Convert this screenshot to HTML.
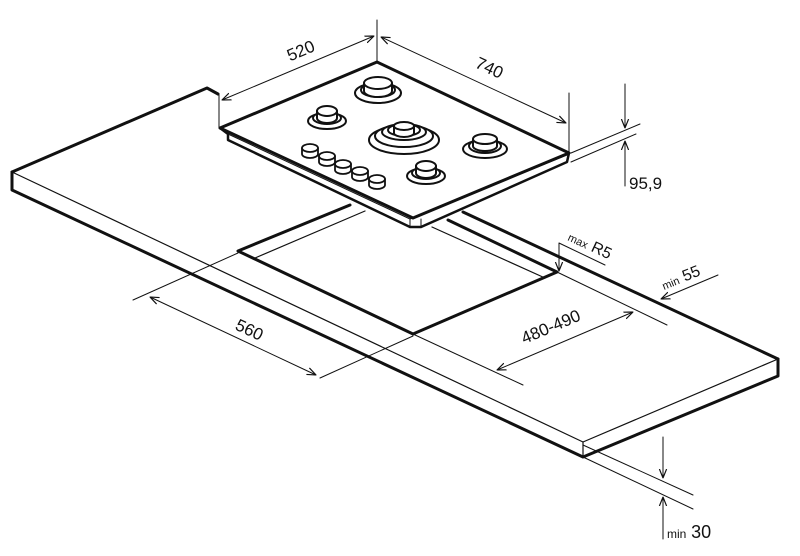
<!DOCTYPE html>
<html><head><meta charset="utf-8"><style>
html,body{margin:0;padding:0;background:#fff;}
svg{display:block;}
text{font-family:"Liberation Sans",sans-serif;fill:#111;}
</style></head><body>
<svg width="800" height="556" viewBox="0 0 800 556" xmlns="http://www.w3.org/2000/svg">
<defs>
<marker id="a" viewBox="0 0 10 10" refX="10" refY="5" markerWidth="9" markerHeight="9" orient="auto-start-reverse" markerUnits="userSpaceOnUse"><path d="M0,1 L10,5 L0,9" fill="none" stroke="#111" stroke-width="1.3"/></marker>
</defs>
<g stroke="#111" fill="none" stroke-linecap="round" stroke-linejoin="round">
<path d="M12,172 L207,88 L218,94" stroke-width="3"/>
<path d="M12,172 L12,190 L583,457 L778,376 L778,359" stroke-width="3"/>
<path d="M12,172 L583,442 L778,359" stroke-width="1.2"/>
<path d="M583,442 L583,457" stroke-width="1.2"/>
<path d="M463,212 L778,359" stroke-width="3"/>
<path d="M350,205 L238,251 L413,334 L557,272 L448,220" stroke-width="3"/>
<path d="M255,258 L365,211" stroke-width="1.2"/>
<path d="M545,278 L432,227" stroke-width="1.2"/>
<path d="M220,128 L228,134 L228,140 L410,227 L421,227 L567,162 L569,153" fill="#fff" stroke-width="2.5"/>
<path d="M228,134 L410,219 L567,155" stroke-width="1"/>
<path d="M410,219 L410,227 M421,219 L421,227" stroke-width="1"/>
<path d="M377,62 L220,128 L413,218 L569,153 Z" fill="#fff" stroke-width="3"/>
<g stroke-width="2" fill="#fff">
<ellipse cx="378" cy="93" rx="23" ry="10"/>
<ellipse cx="378" cy="90" rx="17" ry="7"/>
<path d="M364,83 L364,91 A14,6 0 0 0 392,91 L392,83"/>
<ellipse cx="378" cy="83" rx="14" ry="6"/>
<ellipse cx="327" cy="121" rx="19" ry="8"/>
<ellipse cx="327" cy="118" rx="14" ry="6"/>
<path d="M317,111 L317,118 A10,5 0 0 0 337,118 L337,111"/>
<ellipse cx="327" cy="111" rx="10" ry="5"/>
<ellipse cx="404" cy="140" rx="35" ry="14"/>
<ellipse cx="404" cy="136" rx="29" ry="11"/>
<ellipse cx="404" cy="132" rx="22" ry="8"/>
<ellipse cx="404" cy="130" rx="16" ry="6"/>
<path d="M394,126 L394,133 A10,4 0 0 0 414,133 L414,126"/>
<ellipse cx="404" cy="126" rx="10" ry="4"/>
<ellipse cx="485" cy="149" rx="22" ry="9"/>
<ellipse cx="485" cy="146" rx="16" ry="7"/>
<path d="M473,139 L473,146 A12,5 0 0 0 497,146 L497,139"/>
<ellipse cx="485" cy="139" rx="12" ry="5"/>
<ellipse cx="426" cy="176" rx="19" ry="8"/>
<ellipse cx="426" cy="173" rx="14" ry="6"/>
<path d="M416,166 L416,173 A10,5 0 0 0 436,173 L436,166"/>
<ellipse cx="426" cy="166" rx="10" ry="5"/>
</g>
<g stroke-width="1.8" fill="#fff">
<path d="M302,148 L302,154 A8,4 0 0 0 318,154 L318,148"/><ellipse cx="310" cy="148" rx="8" ry="4"/>
<path d="M319,156 L319,162 A8,4 0 0 0 335,162 L335,156"/><ellipse cx="327" cy="156" rx="8" ry="4"/>
<path d="M335,164 L335,170 A8,4 0 0 0 351,170 L351,164"/><ellipse cx="343" cy="164" rx="8" ry="4"/>
<path d="M352,171 L352,177 A8,4 0 0 0 368,177 L368,171"/><ellipse cx="360" cy="171" rx="8" ry="4"/>
<path d="M369,179 L369,185 A8,4 0 0 0 385,185 L385,179"/><ellipse cx="377" cy="179" rx="8" ry="4"/>
</g>
<g stroke-width="1">
<path d="M377,20 L377,62"/>
<path d="M219,94 L219,128"/>
<path d="M569,93 L569,153"/>
<path d="M222,100 L374,36" marker-start="url(#a)" marker-end="url(#a)"/>
<path d="M381,37 L566,123" marker-start="url(#a)" marker-end="url(#a)"/>
<path d="M571,153 L640,124"/>
<path d="M571,162 L636,134"/>
<path d="M625,84 L625,128" marker-end="url(#a)"/>
<path d="M625,186 L625,141" marker-end="url(#a)"/>
<path d="M133,300 L238,253"/>
<path d="M320,378 L413,336"/>
<path d="M150,297 L316,375" marker-start="url(#a)" marker-end="url(#a)"/>
<path d="M400,328 L523,385"/>
<path d="M557,272 L667,325"/>
<path d="M497,370 L633,312" marker-start="url(#a)" marker-end="url(#a)"/>
<path d="M559,243 L605,265 M559,243 L559,271" />
<path d="M559,262 L559,271" marker-end="url(#a)"/>
<path d="M718,275 L661,299" marker-end="url(#a)"/>
<path d="M583,445 L693,495"/>
<path d="M583,457 L693,509"/>
<path d="M663,437 L663,478" marker-end="url(#a)"/>
<path d="M663,539 L663,497" marker-end="url(#a)"/>
</g>
</g>
<g font-size="17">
<text transform="translate(303,56) rotate(-23)" text-anchor="middle">520</text>
<text transform="translate(487,73) rotate(25)" text-anchor="middle">740</text>
<text x="629" y="189">95,9</text>
<text transform="translate(247,335) rotate(25)" text-anchor="middle">560</text>
<text transform="translate(553,332) rotate(-23)" text-anchor="middle">480-490</text>
<text transform="translate(567,240) rotate(25)"><tspan font-size="11">max</tspan> <tspan font-size="16">R5</tspan></text>
<text transform="translate(664,290) rotate(-22)"><tspan font-size="11">min</tspan> <tspan font-size="16">55</tspan></text>
<text x="667" y="538"><tspan font-size="12">min</tspan> <tspan font-size="18">30</tspan></text>
</g>
</svg>
</body></html>
